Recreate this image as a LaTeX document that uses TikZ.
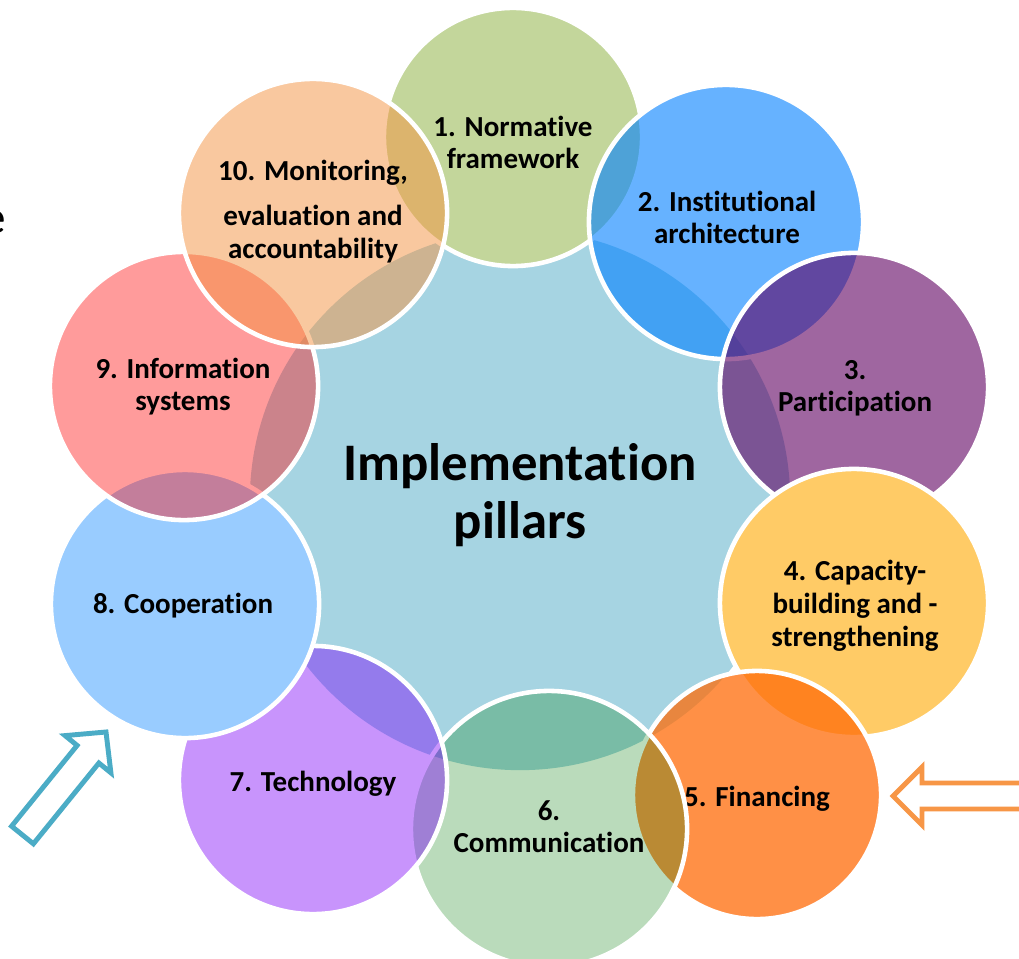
\documentclass[tikz,border=0pt]{standalone}
\usepackage{fontspec}
\setmainfont{Carlito}[Ligatures={NoCommon,NoContextual}]
\definecolor{cc0}{HTML}{A6D4E2}
\definecolor{cc1}{HTML}{C3D69B}
\definecolor{cc2}{RGB}{0,128,255}
\definecolor{cc3}{RGB}{95,0,97}
\definecolor{cc4}{HTML}{FFCB66}
\definecolor{cc5}{RGB}{255,108,9}
\definecolor{cc6}{RGB}{0,125,5}
\definecolor{cc7}{RGB}{124,0,250}
\definecolor{cc8}{HTML}{99CCFF}
\definecolor{cc9}{RGB}{255,19,19}
\definecolor{cc10}{RGB}{245,147,65}
\definecolor{tealarrow}{HTML}{4BACC6}
\definecolor{orangearrow}{HTML}{F79646}
\tikzset{
  pillar/.style={circle, draw=white, line width=1.3pt, inner sep=0pt, minimum size=#1},
  lbl/.style={font=\fontsize{8.25}{9.3}\selectfont\bfseries, align=center, text=black, inner sep=0pt},
  hollowarrow/.style={draw=#1, fill=white, line width=1.4pt, line join=miter},
}
\begin{document}
\begin{tikzpicture}[x=0.01cm, y=-0.01cm]
\useasboundingbox (0,0) rectangle (1019,958);
\clip (0,0) rectangle (1019,958);
\fill[white] (0,0) rectangle (1019,958);

\node[anchor=base east, inner sep=0pt, font=\fontsize{13.4}{16}\selectfont] (cut) at (7,234) {e};

% central circle
\node[circle, fill=cc0, inner sep=0pt, minimum size=5.4cm] (c0) at (520,500) {};

\node[pillar=2.58cm, fill=cc1] (c1) at (513,137) {};
\node[lbl] (t1) at (513,146) {\strut 1. Normative\\\strut framework};

\node[pillar=2.74cm, fill=cc2, fill opacity=0.6] (c2) at (726,222) {};
\node[lbl] (t2) at (727,221) {\strut 2. Institutional\\\strut architecture};

\node[pillar=2.68cm, fill=cc3, fill opacity=0.6] (c3) at (854,387) {};
\node[lbl] (t3) at (855,389) {\strut 3.\\\strut Participation};

\node[pillar=2.68cm, fill=cc4] (c4) at (854,603) {};
\node[lbl] (t4) at (855,607) {\strut 4. Capacity-\\\strut building and -\\\strut strengthening};

\node[pillar=2.48cm, fill=cc5, fill opacity=0.75] (c5) at (757,795) {};
\node[lbl] (t5) at (757,800) {\strut 5. Financing};

\node[pillar=2.76cm, fill=cc6, fill opacity=0.27] (c6) at (549,829) {};
\node[lbl] (t6) at (549,830) {\strut 6.\\\strut Communication};

\node[pillar=2.68cm, fill=cc7, fill opacity=0.42] (c7) at (313,780) {};
\node[lbl] (t7) at (313,785) {\strut 7. Technology};

\node[pillar=2.68cm, fill=cc8] (c8) at (185,604) {};
\node[lbl] (t8) at (183,607) {\strut 8. Cooperation};

\node[pillar=2.68cm, fill=cc9, fill opacity=0.42] (c9) at (184,386) {};
\node[lbl] (t9) at (183,388) {\strut 9. Information\\\strut systems};

\node[pillar=2.68cm, fill=cc10, fill opacity=0.5] (c10) at (313,213) {};
\node[lbl] (t10) at (313,213) {\strut 10. Monitoring,\\[3.5pt]\strut evaluation and\\\strut accountability};

\node[font=\fontsize{15}{16.5}\selectfont\bfseries, align=center, inner sep=0pt] (title) at (520,498) {\strut Implementation\\\strut pillars};

% hollow arrows
\draw[hollowarrow=tealarrow] (106,732) -- (65.1,735.6) -- (77.1,745.4) -- (11.6,826.2) -- (33.4,843.8) -- (98.9,763) -- (110.9,772.8) -- cycle;
\draw[hollowarrow=orangearrow] (893,796) -- (922,767) -- (922,783) -- (1030,783) -- (1030,809) -- (922,809) -- (922,825) -- cycle;
\end{tikzpicture}
\end{document}
